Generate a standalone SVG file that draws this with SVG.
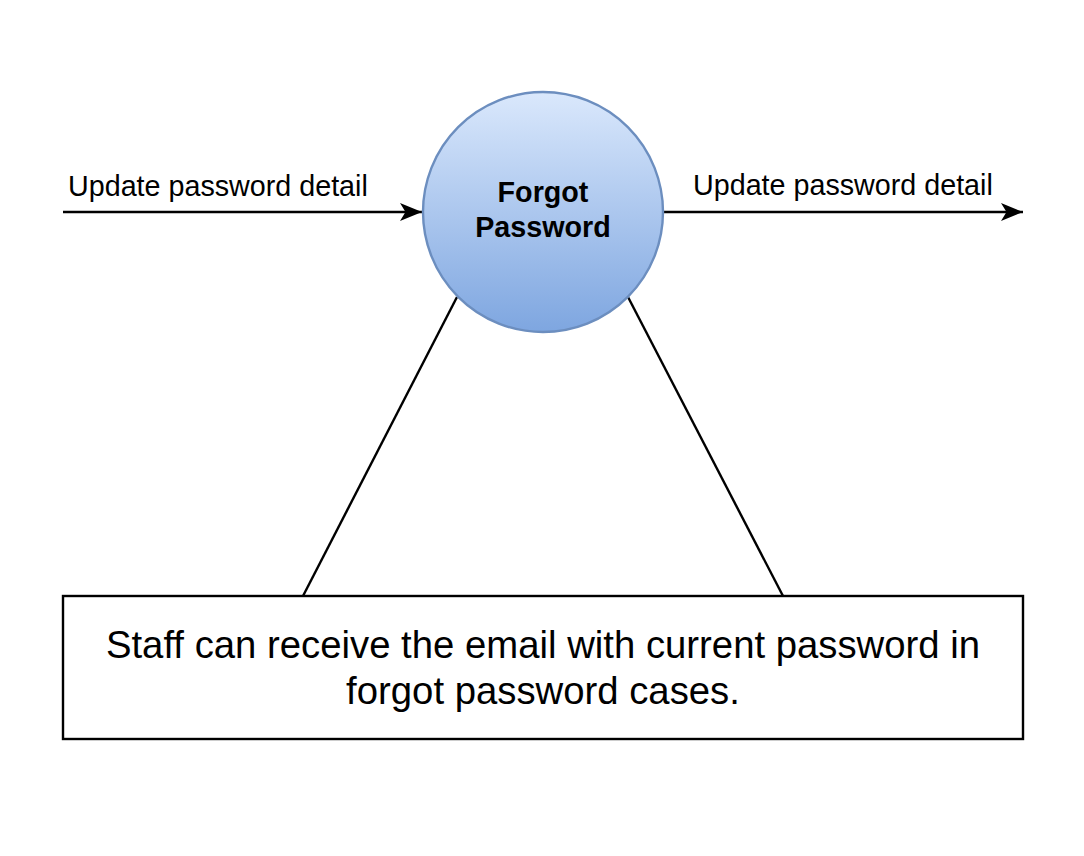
<svg xmlns="http://www.w3.org/2000/svg" width="1084" height="856" viewBox="0 0 1084 856">
<style>
.lbl{font-family:"Liberation Sans",Arial,Helvetica,sans-serif;font-size:28.7px;fill:#000}
.ttl{font-family:"Liberation Sans",Arial,Helvetica,sans-serif;font-size:28.7px;font-weight:bold;fill:#000}
.box{font-family:"Liberation Sans",Arial,Helvetica,sans-serif;font-size:38.3px;fill:#000}
.ln{stroke:#000;stroke-width:2.4;fill:none}
</style>
<defs>
<linearGradient id="g" x1="0" y1="0" x2="0" y2="1">
<stop offset="0" stop-color="#dae8fc"/>
<stop offset="1" stop-color="#7ea6e0"/>
</linearGradient>
<marker id="arr" markerUnits="userSpaceOnUse" markerWidth="24" markerHeight="20" refX="22" refY="10" orient="auto">
<path d="M0,1 L22,10 L0,19 L5.5,10 Z" fill="#000"/>
</marker>
</defs>
<rect width="1084" height="856" fill="#fff"/>
<g id="connectors">
<line class="ln" x1="63" y1="212" x2="422" y2="212" marker-end="url(#arr)"/>
<line class="ln" x1="663" y1="212" x2="1023" y2="212" marker-end="url(#arr)"/>
<line class="ln" x1="457" y1="297" x2="303" y2="596"/>
<line class="ln" x1="628" y1="297" x2="783" y2="596"/>
<text class="lbl" x="68" y="196">Update password detail</text>
<text class="lbl" x="693" y="195">Update password detail</text>
</g>
<g id="forgot-password">
<circle cx="543" cy="212" r="120" fill="url(#g)" stroke="#6c8ebf" stroke-width="2.4"/>
<text class="ttl" x="543" y="202" text-anchor="middle">Forgot</text>
<text class="ttl" x="543" y="237" text-anchor="middle">Password</text>
</g>
<g id="note">
<rect x="63" y="596" width="960" height="143" fill="#fff" stroke="#000" stroke-width="2.4"/>
<text class="box" x="543" y="658" text-anchor="middle">Staff can receive the email with current password in</text>
<text class="box" x="543" y="704" text-anchor="middle">forgot password cases.</text>
</g>
</svg>
